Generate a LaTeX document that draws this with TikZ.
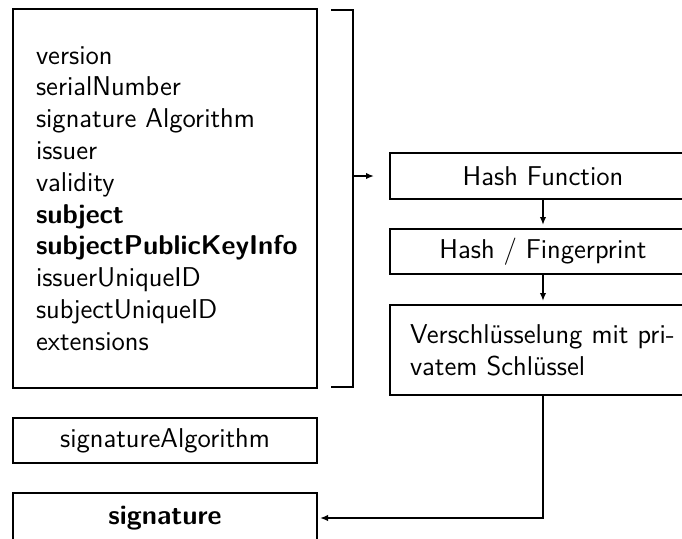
\documentclass[tikz,border=0pt]{standalone}
\usetikzlibrary{arrows.meta}
\begin{document}
\begin{tikzpicture}[x=0.5pt,y=-0.5pt,
  every node/.style={font=\sffamily\fontsize{13.6}{15.9}\selectfont},
  box/.style={draw,line width=1pt,rectangle,inner sep=0pt},
  arr/.style={line width=1pt,-{Latex[length=4pt,width=3.2pt]}},
  line/.style={line width=1pt}]
\useasboundingbox (0,0) rectangle (682,538);

% certificate fields (to-be-signed part)
\node[box,minimum width=152pt,minimum height=189.5pt,
      text width=129pt,inner xsep=11.5pt,align=left] (tbs) at (165,198.5)
  {version\\
   serialNumber\\
   signature Algorithm\\
   issuer\\
   validity\\
   \textbf{subject}\\
   \textbf{subjectPublicKeyInfo}\\
   issuerUniqueID\\
   subjectUniqueID\\
   extensions};

% signing chain
\node[box,minimum width=153pt,minimum height=23pt] (hash) at (543,176) {Hash Function};
\node[box,minimum width=153pt,minimum height=22.5pt] (fp) at (543,251.5) {Hash / Fingerprint};
\node[box,minimum width=153pt,minimum height=45pt,text width=133pt,
      inner xsep=10pt,align=left] (enc) at (543,350)
  {Verschlüsselung mit pri-\\vatem Schlüssel};

% remaining certificate parts
\node[box,minimum width=152pt,minimum height=22.5pt] (sigalg) at (165,440.5) {signatureAlgorithm};
\node[box,minimum width=152pt,minimum height=25pt] (sig) at (165,518) {\textbf{signature}};

% bracket grouping the fields
\coordinate (brT) at (331,10);
\coordinate (brTR) at (353,10);
\coordinate (brBR) at (353,387);
\coordinate (brB) at (331,387);
\draw[line] (brT) -- (brTR) -- (brBR) -- (brB);
\coordinate (brM) at (brTR |- hash);

% connectors
\draw[arr,shorten >=7.5pt] (brM) -- (hash.west);
\draw[arr,shorten >=1.5pt] (hash) -- (fp);
\draw[arr,shorten >=1.5pt] (fp) -- (enc);
\draw[arr,shorten >=1pt] (enc.south) |- (sig.east);
\end{tikzpicture}
\end{document}
